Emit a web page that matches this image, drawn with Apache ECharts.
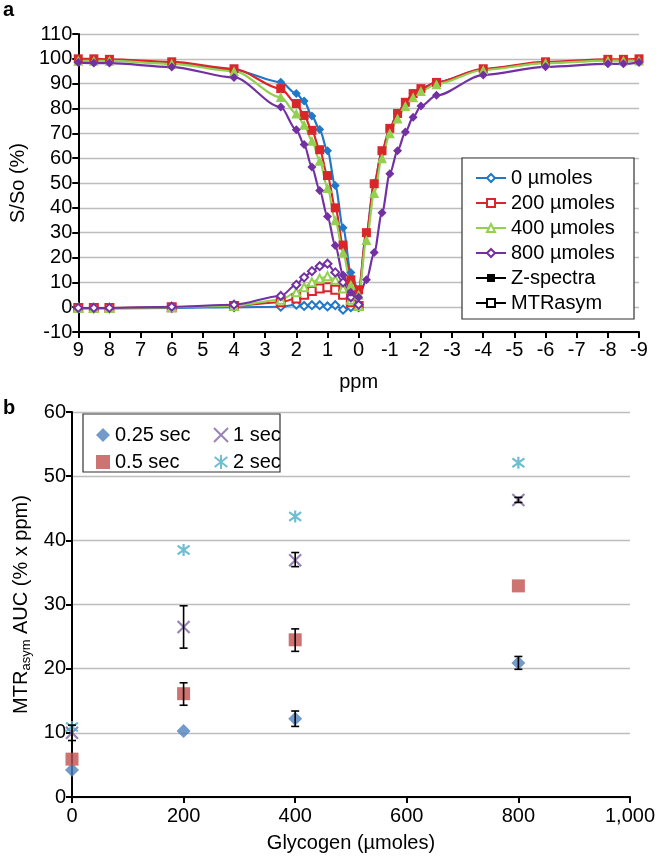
<!DOCTYPE html>
<html>
<head>
<meta charset="utf-8">
<script src="https://cdn.jsdelivr.net/npm/echarts@6/dist/echarts.min.js"></script>
<style>
html,body{margin:0;padding:0;background:#fff;}
#main{width:658px;height:860px;}
</style>
</head>
<body>
<div id="main"></div>
<script>
// ---------- Panel a data ----------
const ppmZ = [9, 8.5, 8, 6, 4, 2.5, 2, 1.75, 1.5, 1.25, 1, 0.75, 0.5, 0.25, 0, -0.25, -0.5, -0.75, -1, -1.25, -1.5, -1.75, -2, -2.5, -4, -6, -8, -8.5, -9];
const z0   = [99.5, 99.5, 99.5, 98.5, 95.5, 90.6, 86, 83, 77, 71.5, 63, 49, 32, 14, 6, 30, 50, 62.5, 72, 78, 82.5, 86, 88, 90.6, 95.8, 98.5, 99.5, 99.5, 99.5];
const z200 = [100, 100, 99.8, 98.8, 96, 88, 82, 77.2, 71.2, 63.4, 53, 40, 25, 11, 7, 30, 49.7, 63, 72, 78, 82.5, 86, 88, 90.5, 96, 98.8, 99.8, 99.8, 100];
const z400 = [99.2, 99.2, 99.2, 98, 95, 84.6, 78, 73.5, 67, 59, 48, 35, 22, 9, 5, 27, 46, 60, 70, 76, 81, 84.5, 87, 89.8, 95.5, 98.3, 99.3, 99.3, 99.3];
const z800 = [98.5, 98.3, 98.3, 96.7, 92.5, 80.6, 71.4, 65.5, 56.4, 47, 36.5, 24.8, 13, 6, 4, 11, 22, 38, 53.7, 63, 70.5, 76.5, 81, 85.3, 93.5, 96.8, 98, 98, 98.5];

const ppmA = [9, 8.5, 8, 6, 4, 2.5, 2, 1.75, 1.5, 1.25, 1, 0.75, 0.5, 0.25, 0];
const a0   = [-0.5, -0.5, -0.5, -0.3, 0, 0.2, 1, 0.5, 0.8, 0.8, 0.3, 0.8, -1, 0, 0];
const a200 = [-0.3, -0.3, -0.3, 0, 0.5, 2, 3.5, 5, 6.5, 7.5, 8, 7, 5, 2, 0.5];
const a400 = [-0.3, -0.3, -0.3, 0, 0.5, 3, 6, 8, 10, 11.5, 12.5, 11, 7.5, 3, 0.5];
const a800 = [-0.3, -0.3, -0.3, 0.2, 1, 4.5, 9, 12, 14.5, 16.5, 17.5, 14, 10, 4, 1];

const concNames = ['0 µmoles', '200 µmoles', '400 µmoles', '800 µmoles'];

// ---------- Panel b data ----------
const glycogen = [0, 200, 400, 800];
const auc025 = [4.2, 10.3, 12.2, 20.9];
const auc05  = [5.9, 16.1, 24.5, 32.9];
const auc1   = [10.0, 26.5, 36.9, 46.3];
const auc2   = [10.9, 38.5, 43.7, 52.1];
// error bars: [glycogen, low, high]
const err025 = [[400, 11.0, 13.4], [800, 19.9, 21.9]];
const err05  = [[200, 14.3, 17.8], [400, 22.7, 26.2]];
const err1   = [[0, 8.8, 11.2], [200, 23.2, 29.8], [400, 35.9, 38.1], [800, 45.9, 46.7]];

const FONT = 'Liberation Sans';
const colA = ['#1f78c8', '#d9262b', '#92d050', '#7330a3'];
const symA = ['diamond', 'rect', 'triangle', 'diamond'];
const symAE = ['emptyDiamond', 'emptyRect', 'emptyTriangle', 'emptyDiamond'];
const zSets = [z0, z200, z400, z800];
const aSets = [a0, a200, a400, a800];

const pair = (xs, ys) => xs.map((x, i) => [x, ys[i]]);

const series = [];
for (let i = 0; i < 4; i++) {
  series.push({
    name: concNames[i], type: 'line', xAxisIndex: 0, yAxisIndex: 0,
    data: pair(ppmA, aSets[i]), smooth: 0.3, smoothMonotone: 'x',
    symbol: symAE[i], symbolSize: 8, showSymbol: true,
    lineStyle: {color: colA[i], width: 2},
    itemStyle: {color: colA[i], borderColor: colA[i], borderWidth: 1.5},
    z: 2, animation: false
  });
}
for (let i = 0; i < 4; i++) {
  series.push({
    name: concNames[i], type: 'line', xAxisIndex: 0, yAxisIndex: 0,
    data: pair(ppmZ, zSets[i]), smooth: 0.3, smoothMonotone: 'x',
    symbol: symA[i], symbolSize: i === 2 ? 10 : 9, showSymbol: true,
    lineStyle: {color: colA[i], width: 2.2},
    itemStyle: {color: colA[i]},
    z: 3, animation: false
  });
}
series.push({name: 'Z-spectra', type: 'line', xAxisIndex: 0, yAxisIndex: 0, data: [], symbol: 'rect', symbolSize: 8,
  lineStyle: {color: '#000', width: 2}, itemStyle: {color: '#000'}});
series.push({name: 'MTRasym', type: 'line', xAxisIndex: 0, yAxisIndex: 0, data: [], symbol: 'emptyRect', symbolSize: 8,
  lineStyle: {color: '#000', width: 1.5}, itemStyle: {color: '#000', borderColor: '#000', borderWidth: 1.2}});

// Panel b
const xPath = 'path://M0,0L10,10M10,0L0,10';
const astPath = 'path://M0,1L10,9M10,1L0,9M5,-0.5L5,10.5';
series.push({name: '0.25 sec', type: 'scatter', xAxisIndex: 1, yAxisIndex: 1, data: pair(glycogen, auc025),
  symbol: 'diamond', symbolSize: 14, itemStyle: {color: '#4f81bd'}, z: 3});
series.push({name: '0.5 sec', type: 'scatter', xAxisIndex: 1, yAxisIndex: 1, data: pair(glycogen, auc05),
  symbol: 'rect', symbolSize: 13, itemStyle: {color: '#c0504d'}, z: 3});
series.push({name: '1 sec', type: 'scatter', xAxisIndex: 1, yAxisIndex: 1, data: pair(glycogen, auc1),
  symbol: xPath, symbolSize: 12, itemStyle: {color: '#8064a2', borderColor: '#8064a2', borderWidth: 2.2}, z: 3});
series.push({name: '2 sec', type: 'scatter', xAxisIndex: 1, yAxisIndex: 1, data: pair(glycogen, auc2),
  symbol: astPath, symbolSize: 12, itemStyle: {color: '#4bacc6', borderColor: '#4bacc6', borderWidth: 2.2}, z: 3});

const errRender = function (params, api) {
  const x = api.value(0), lo = api.value(1), hi = api.value(2);
  const p1 = api.coord([x, lo]), p2 = api.coord([x, hi]);
  const w = 4;
  const st = {stroke: '#000', lineWidth: 1.6};
  return {type: 'group', children: [
    {type: 'line', shape: {x1: p1[0], y1: p1[1], x2: p2[0], y2: p2[1]}, style: st},
    {type: 'line', shape: {x1: p1[0] - w, y1: p1[1], x2: p1[0] + w, y2: p1[1]}, style: st},
    {type: 'line', shape: {x1: p2[0] - w, y1: p2[1], x2: p2[0] + w, y2: p2[1]}, style: st}
  ]};
};
[err025, err05, err1].forEach(e => {
  series.push({type: 'custom', xAxisIndex: 1, yAxisIndex: 1, data: e, renderItem: errRender,
    encode: {x: 0, y: [1, 2]}, z: 4, silent: true});
});

const axisLineBlack = {show: true, onZero: false, lineStyle: {color: '#000', width: 2}};
const tickBlack = {show: true, inside: false, length: 6, lineStyle: {color: '#000', width: 2}};
const lab = {color: '#000', fontSize: 20, fontFamily: FONT};
const grayGrid = {show: true, lineStyle: {color: '#bdbdbd', width: 1.3}};

const option = {
  animation: false,
  backgroundColor: '#fff',
  textStyle: {fontFamily: FONT},
  grid: [
    {left: 69, right: 19, top: 34, height: 298, containLabel: false},
    {left: 72, right: 26, top: 412, height: 385, containLabel: false}
  ],
  xAxis: [
    {gridIndex: 0, type: 'value', min: -9, max: 9, interval: 1, inverse: true,
     axisLine: axisLineBlack, axisTick: tickBlack, splitLine: {show: false},
     axisLabel: Object.assign({margin: 8}, lab),
     name: 'ppm', nameLocation: 'middle', nameGap: 40,
     nameTextStyle: {color: '#000', fontSize: 20, fontFamily: FONT}},
    {gridIndex: 1, type: 'value', min: 0, max: 1000, interval: 200,
     axisLine: axisLineBlack, axisTick: tickBlack, splitLine: {show: false},
     axisLabel: Object.assign({margin: 9, formatter: v => v.toLocaleString('en-US')}, lab),
     name: 'Glycogen (µmoles)', nameLocation: 'middle', nameGap: 36,
     nameTextStyle: {color: '#000', fontSize: 20, fontFamily: FONT}}
  ],
  yAxis: [
    {gridIndex: 0, type: 'value', min: -10, max: 110, interval: 10,
     axisLine: axisLineBlack, axisTick: tickBlack, splitLine: grayGrid,
     axisLabel: Object.assign({margin: 6}, lab),
     name: 'S/So (%)', nameLocation: 'middle', nameGap: 37,
     nameTextStyle: {color: '#000', fontSize: 20, fontFamily: FONT}},
    {gridIndex: 1, type: 'value', min: 0, max: 60, interval: 10,
     axisLine: axisLineBlack, axisTick: tickBlack, splitLine: grayGrid,
     axisLabel: Object.assign({margin: 6}, lab),
     name: 'MTR{sub|asym} AUC (% x ppm)', nameLocation: 'middle', nameGap: 38,
     nameTextStyle: {color: '#000', fontSize: 20, fontFamily: FONT,
       rich: {sub: {fontSize: 13, fontFamily: FONT, color: '#000', verticalAlign: 'bottom', padding: [10, 0, 0, 0]}}}}
  ],
  legend: [
    {left: 470, top: 163, orient: 'vertical', itemGap: 5, itemWidth: 30, itemHeight: 10,
     data: ['0 µmoles', '200 µmoles', '400 µmoles', '800 µmoles', 'Z-spectra', 'MTRasym'],
     textStyle: {color: '#000', fontSize: 20, fontFamily: FONT}, selectedMode: false, z: 10},
    {left: 91, top: 420, orient: 'vertical', itemGap: 7, itemWidth: 14, itemHeight: 14,
     data: ['0.25 sec', '0.5 sec'], textStyle: {color: '#000', fontSize: 20, fontFamily: FONT}, selectedMode: false, z: 10},
    {left: 208, top: 420, orient: 'vertical', itemGap: 7, itemWidth: 14, itemHeight: 14,
     data: ['1 sec', '2 sec'], textStyle: {color: '#000', fontSize: 20, fontFamily: FONT}, selectedMode: false, z: 10}
  ],
  graphic: [
    {type: 'rect', shape: {x: 462, y: 158, width: 172, height: 161}, style: {fill: '#fff', stroke: '#333', lineWidth: 1.2}, z: 5},
    {type: 'rect', shape: {x: 83, y: 414, width: 197, height: 58}, style: {fill: '#fff', stroke: '#333', lineWidth: 1.2}, z: 5},
    {type: 'text', left: 3, top: 0, style: {text: 'a', font: 'bold 20px "Liberation Sans"', fill: '#000'}, z: 10},
    {type: 'text', left: 3, top: 398, style: {text: 'b', font: 'bold 20px "Liberation Sans"', fill: '#000'}, z: 10}
  ],
  series: series
};

const chart = echarts.init(document.getElementById('main'), null, {renderer: 'canvas'});
chart.setOption(option);
</script>
</body>
</html>
